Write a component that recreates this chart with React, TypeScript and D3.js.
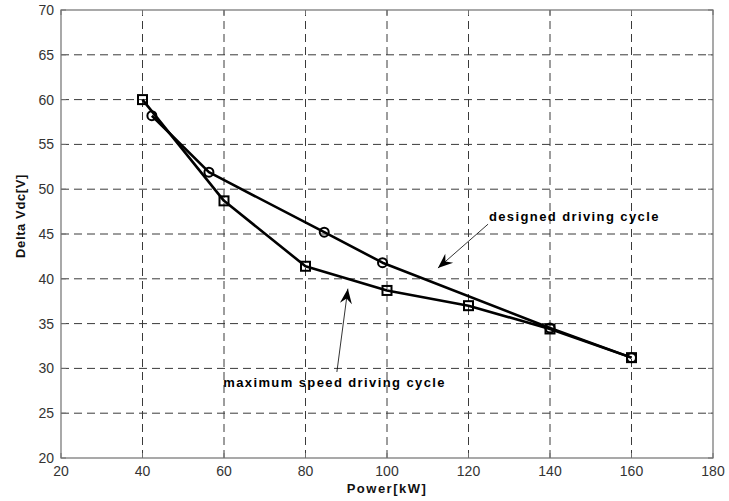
import React from "react";
import * as d3 from "d3";

// ---- data ----
const xTicks = [20, 40, 60, 80, 100, 120, 140, 160, 180];
const yTicks = [20, 25, 30, 35, 40, 45, 50, 55, 60, 65, 70];

// maximum speed driving cycle (square markers)
const maxPower = [40, 60, 80, 100, 120, 140, 160];
const maxDelta = [60.0, 48.7, 41.4, 38.7, 37.0, 34.4, 31.2];

// designed driving cycle (circle markers)
const desPower = [42.3, 56.3, 84.6, 98.9, 140, 160];
const desDelta = [58.2, 51.9, 45.2, 41.8, 34.5, 31.2];

// annotations in data units: [textX, textY, tailX, tailY, tipX, tipY]
const annotations = [
  { label: "designed driving cycle", pos: [125.0, 46.4, 124.8, 46.1, 112.5, 41.2] },
  { label: "maximum speed driving cycle", pos: [59.8, 27.9, 87.7, 29.6, 90.4, 38.9] },
];

const W = 729;
const H = 501;

export default function App() {
  const x = d3.scaleLinear().domain([20, 180]).range([61, 713]);
  const y = d3.scaleLinear().domain([20, 70]).range([458, 10]);

  const line = d3
    .line<[number, number]>()
    .x((d) => x(d[0]))
    .y((d) => y(d[1]));

  const maxPts: [number, number][] = maxPower.map((p, i) => [p, maxDelta[i]]);
  const desPts: [number, number][] = desPower.map((p, i) => [p, desDelta[i]]);

  const font = "Arial, 'Liberation Sans', Helvetica, sans-serif";
  const [x0, x1] = x.range();
  const [y0, y1] = y.range();

  // arrow head polygon (notched, like matlab annotation arrows)
  const arrowHead = (tx: number, ty: number, fx: number, fy: number) => {
    const ang = Math.atan2(ty - fy, tx - fx);
    const len = 15;
    const half = 6;
    const back = 10;
    const ux = Math.cos(ang);
    const uy = Math.sin(ang);
    const px = -uy;
    const py = ux;
    const bx = tx - ux * len;
    const by = ty - uy * len;
    const nx = tx - ux * back;
    const ny = ty - uy * back;
    return `M${tx},${ty}L${bx + px * half},${by + py * half}L${nx},${ny}L${bx - px * half},${by - py * half}Z`;
  };

  return (
    <div style={{ position: "absolute", left: 0, top: 0, background: "#fff" }}>
      <svg width={W} height={H} style={{ display: "block" }}>
        <rect width={W} height={H} fill="#fff" />

        {/* grid */}
        <g stroke="#3a3a3a" strokeWidth={1} strokeDasharray="8,5">
          {xTicks.slice(1, -1).map((t) => (
            <line key={"gx" + t} x1={x(t)} x2={x(t)} y1={y0} y2={y1} />
          ))}
          {yTicks.slice(1, -1).map((t) => (
            <line key={"gy" + t} x1={x0} x2={x1} y1={y(t)} y2={y(t)} />
          ))}
        </g>

        {/* axes box */}
        <rect
          x={x0}
          y={y1}
          width={x1 - x0}
          height={y0 - y1}
          fill="none"
          stroke="#707070"
          strokeWidth={1.2}
        />

        {/* tick marks */}
        <g stroke="#707070" strokeWidth={1}>
          {xTicks.map((t) => (
            <g key={"tx" + t}>
              <line x1={x(t)} x2={x(t)} y1={y0} y2={y0 - 5} />
              <line x1={x(t)} x2={x(t)} y1={y1} y2={y1 + 5} />
            </g>
          ))}
          {yTicks.map((t) => (
            <g key={"ty" + t}>
              <line x1={x0} x2={x0 + 5} y1={y(t)} y2={y(t)} />
              <line x1={x1} x2={x1 - 5} y1={y(t)} y2={y(t)} />
            </g>
          ))}
        </g>

        {/* tick labels */}
        <g fontFamily={font} fontSize={14} fill="#333">
          {xTicks.map((t) => (
            <text key={"lx" + t} x={x(t)} y={y0 + 18} textAnchor="middle">
              {t}
            </text>
          ))}
          {yTicks.map((t) => (
            <text key={"ly" + t} x={x0 - 7} y={y(t) + 5} textAnchor="end">
              {t}
            </text>
          ))}
        </g>

        {/* axis labels */}
        <text
          x={(x0 + x1) / 2}
          y={493}
          textAnchor="middle"
          fontFamily={font}
          fontWeight="bold"
          fontSize={13}
          letterSpacing={1.5}
          fill="#111"
        >
          Power[kW]
        </text>
        <text
          transform={`translate(25,${216}) rotate(-90)`}
          textAnchor="middle"
          fontFamily={font}
          fontWeight="bold"
          fontSize={13}
          letterSpacing={0.6}
          fill="#111"
        >
          Delta Vdc[V]
        </text>

        {/* series */}
        <path d={line(desPts) || ""} fill="none" stroke="#000" strokeWidth={2.6} strokeLinejoin="round" />
        <path d={line(maxPts) || ""} fill="none" stroke="#000" strokeWidth={2.6} strokeLinejoin="round" />

        <g fill="none" stroke="#000" strokeWidth={2}>
          {desPts.map((d, i) => (
            <circle key={"c" + i} cx={x(d[0])} cy={y(d[1])} r={4.5} />
          ))}
          {maxPts.map((d, i) => (
            <rect key={"s" + i} x={x(d[0]) - 4.5} y={y(d[1]) - 4.5} width={9} height={9} />
          ))}
        </g>

        {/* annotations */}
        {annotations.map((a) => {
          const [txd, tyd, fxd, fyd, hxd, hyd] = a.pos;
          const fx = x(fxd);
          const fy = y(fyd);
          const hx = x(hxd);
          const hy = y(hyd);
          return (
            <g key={a.label}>
              <line x1={fx} y1={fy} x2={hx} y2={hy} stroke="#000" strokeWidth={0.8} />
              <path d={arrowHead(hx, hy, fx, fy)} fill="#000" />
              <text
                x={x(txd)}
                y={y(tyd)}
                fontFamily={font}
                fontWeight="bold"
                fontSize={13}
                letterSpacing={1.4}
                fill="#000"
              >
                {a.label}
              </text>
            </g>
          );
        })}
      </svg>
    </div>
  );
}
